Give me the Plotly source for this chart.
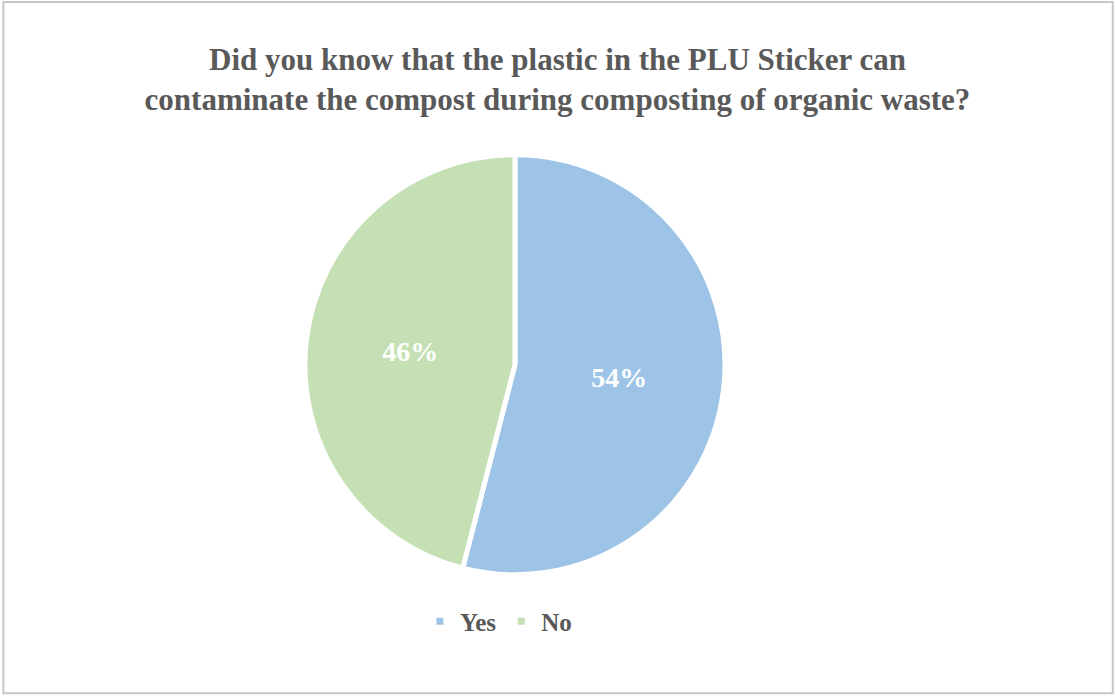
import plotly.graph_objects as go

# datos del grafico
etiquetas = ["Yes", "No"]
valores = [54, 46]
colores = ["#9DC3E6", "#C5E0B4"]

titulo = "Did you know that the plastic in the PLU Sticker can<br>contaminate the compost during composting of organic waste?"

fig = go.Figure(
    go.Pie(
        labels=etiquetas,
        values=valores,
        sort=False,
        direction="clockwise",
        rotation=0,
        marker=dict(colors=colores, line=dict(color="white", width=5)),
        textinfo="percent",
        textposition="inside",
        insidetextfont=dict(family="Liberation Serif", size=28, color="white", weight="bold"),
        texttemplate="%{percent:.0%}",
        domain=dict(x=[0.2735, 0.6502], y=[0.172, 0.78]),
        hoverinfo="label+percent",
    )
)

# borde del grafico
fig.add_shape(
    type="rect", xref="paper", yref="paper",
    x0=0.003, y0=0.004, x1=0.998, y1=0.997,
    line=dict(color="#C8C8C8", width=2),
)

fig.update_layout(
    width=1115,
    height=696,
    margin=dict(l=0, r=0, t=0, b=0),
    paper_bgcolor="white",
    plot_bgcolor="white",
    title=dict(
        text=titulo,
        x=0.5, xanchor="center",
        y=0.90, yanchor="top",
        font=dict(family="Liberation Serif", size=31, color="#595959", weight="bold"),
    ),
    legend=dict(
        orientation="h",
        x=0.447, xanchor="center",
        y=0.107, yanchor="middle",
        font=dict(family="Liberation Serif", size=25, color="#595959", weight="bold"),
        itemwidth=30,
    ),
    font=dict(family="Liberation Serif"),
)

# quitar el margen del body para que la figura quede en la esquina
fig.write_html(
    "out.html",
    config={"displayModeBar": False},
    post_script="document.body.style.margin='0';",
)
